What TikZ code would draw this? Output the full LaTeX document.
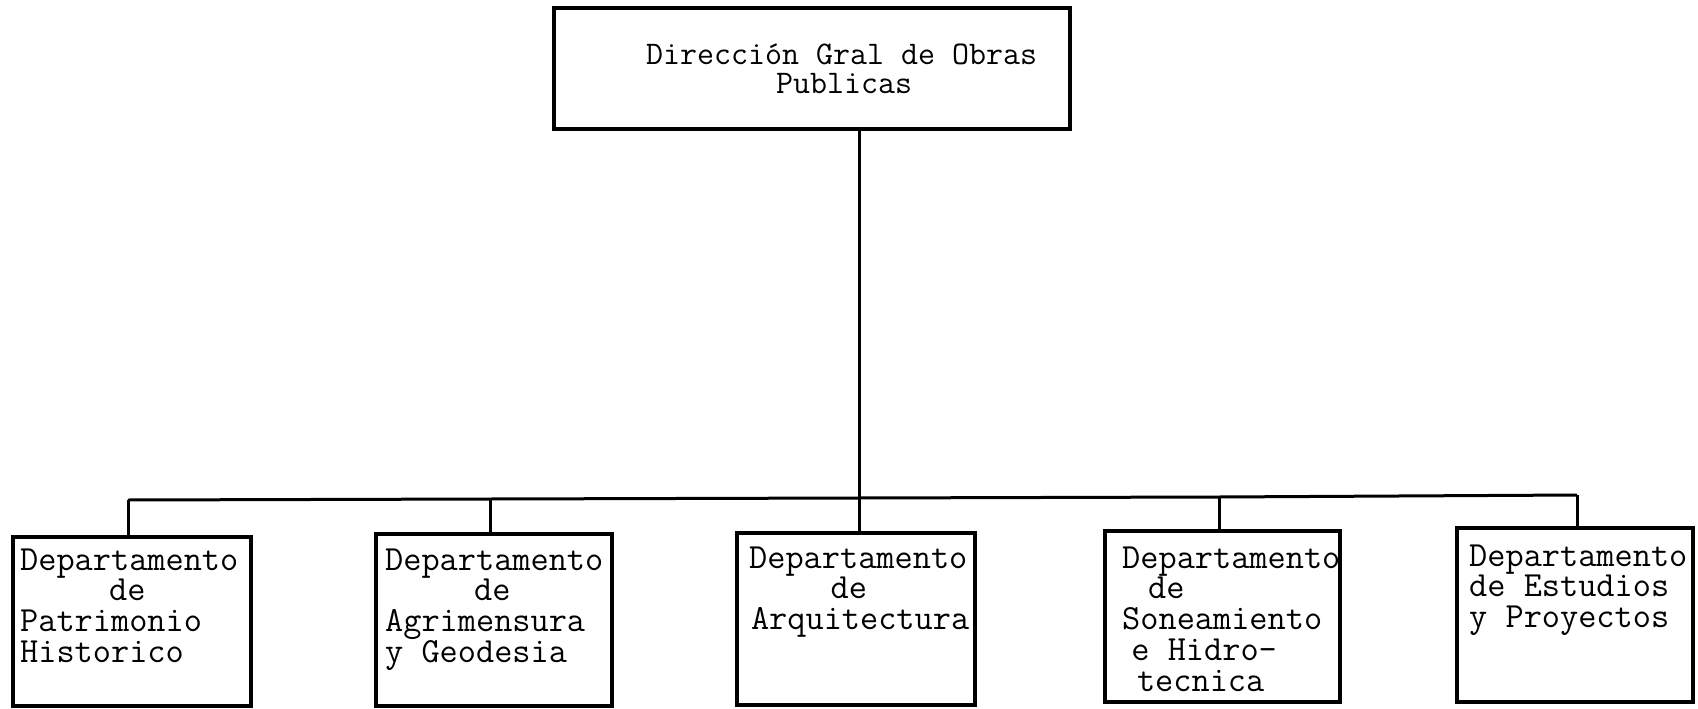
\documentclass[tikz,border=0pt]{standalone}
\usepackage{fontspec}
\newlength\cw
\newcommand\Tlines[2][30.8pt]{\vtop{\baselineskip=#1\lineskiplimit=-1000pt\lineskip=0pt\relax #2}}
\newcommand\Lline[2][0]{\hbox{\hspace*{#1\cw}#2}}
\tikzset{
  box/.style={draw, line width=3.5pt, inner sep=0pt},
  conn/.style={line width=3pt},
  txt/.style={font=\ttfamily\fontsize{35.3pt}{30.8pt}\selectfont\setlength\cw{0.525em}, inner sep=0pt, anchor=base west},
  toptxt/.style={font=\ttfamily\fontsize{33pt}{29pt}\selectfont\setlength\cw{0.525em}, inner sep=0pt, anchor=base west}
}
\begin{document}
\begin{tikzpicture}[x=1pt,y=-1pt]
\useasboundingbox (0,0) rectangle (1698,709);
% boxes
\node[box, minimum width=516pt, minimum height=121pt] (top) at (812,68.5) {};
\node[box, minimum width=238pt, minimum height=169pt] (b1) at (132,621.5) {};
\node[box, minimum width=236pt, minimum height=172pt] (b2) at (494,620) {};
\node[box, minimum width=238pt, minimum height=172pt] (b3) at (856,619) {};
\node[box, minimum width=235pt, minimum height=171pt] (b4) at (1222.5,616.5) {};
\node[box, minimum width=236pt, minimum height=174pt] (b5) at (1575,615) {};
% texts
\node[toptxt] (t0) at (646,65) {\Tlines[29pt]{\Lline{Dirección Gral de Obras}\Lline[7.5]{Publicas}}};
\node[txt] (t1) at (20,570) {\Tlines{\Lline{Departamento}\Lline[4.8]{de}\Lline{Patrimonio}\Lline{Historico}}};
\node[txt] (t2) at (385,570) {\Tlines{\Lline{Departamento}\Lline[4.8]{de}\Lline{Agrimensura}\Lline{y Geodesia}}};
\node[txt] (t3) at (749,568) {\Tlines{\Lline{Departamento}\Lline[4.4]{de}\Lline[0.1]{Arquitectura}}};
\node[txt] (t4) at (1122,568) {\Tlines{\Lline{Departamento}\Lline[1.4]{de}\Lline{Soneamiento}\Lline[0.5]{e Hidro-}\Lline[0.8]{tecnica}}};
\node[txt] (t5) at (1469,566) {\Tlines{\Lline{Departamento}\Lline{de Estudios}\Lline{y Proyectos}}};
% bus junctions
\coordinate (j1) at (128,500);
\coordinate (j2) at (490,499);
\coordinate (j3) at (859,498);
\coordinate (j4) at (1219,497);
\coordinate (j5) at (1577,495);
% connectors
\draw[conn] (top.south -| j3) -- (j3);
\draw[conn] (j1) -- (j2) -- (j3) -- (j4) -- (j5);
\draw[conn] (j1) -- (b1.north -| j1);
\draw[conn] (j2) -- (b2.north -| j2);
\draw[conn] (j3) -- (b3.north -| j3);
\draw[conn] (j4) -- (b4.north -| j4);
\draw[conn] (j5) -- (b5.north -| j5);
\end{tikzpicture}
\end{document}
